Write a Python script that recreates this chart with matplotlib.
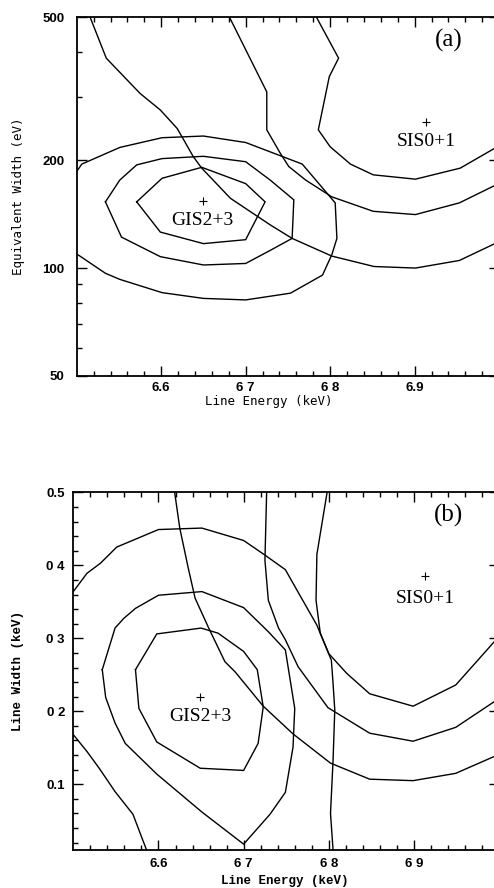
#
# Two-panel confidence contour figure: GIS2+3 vs SIS0+1 iron line fits.
#   (a) equivalent width (log) vs line energy
#   (b) line width vs line energy
# Contour vertices were read off the scanned figure.
#
# To run: 'python3 plot.py'  -> out.png
#

import matplotlib
matplotlib.use("Agg")
import matplotlib.pyplot as plt
from matplotlib.ticker import NullFormatter


# ---------------- panel (a): equivalent width (eV) ----------------
a_gis1_x = [6.571, 6.601, 6.648, 6.700, 6.723, 6.700, 6.650, 6.599, 6.571]
a_gis1_y = [153, 178, 191, 172, 153, 120, 117, 126, 153]

a_gis2_x = [6.534, 6.551, 6.571, 6.601, 6.650, 6.700, 6.729, 6.757, 6.755,
            6.729, 6.700, 6.650, 6.599, 6.553, 6.534]
a_gis2_y = [153, 176, 194, 202, 205, 198, 176, 155, 121,
            112, 103, 102, 107.6, 122, 153]

a_gis3_x = [6.500, 6.506, 6.551, 6.601, 6.650, 6.700, 6.767, 6.806, 6.808,
            6.802, 6.791, 6.753, 6.700, 6.650, 6.601, 6.551, 6.534, 6.500]
a_gis3_y = [186, 195, 217, 231, 233.5, 224, 195, 152, 121,
            109, 95.6, 85.1, 81.5, 82.3, 85.4, 93, 96.7, 109.5]

a_sis1_x = [6.784, 6.810, 6.799, 6.786, 6.800, 6.824, 6.851, 6.901, 6.954, 6.995]
a_sis1_y = [500, 385, 342, 243, 218, 195, 182, 177, 190, 216]

a_sis2_x = [6.681, 6.725, 6.725, 6.741, 6.751, 6.771, 6.802, 6.851, 6.901,
            6.953, 6.995]
a_sis2_y = [500, 310, 243, 209, 192, 176, 158, 144, 141, 152, 170]

a_sis3_x = [6.516, 6.535, 6.575, 6.599, 6.619, 6.628, 6.638, 6.648, 6.682,
            6.729, 6.755, 6.802, 6.852, 6.901, 6.953, 6.995]
a_sis3_y = [500, 385, 307, 276, 245, 225, 204.5, 190, 156.5,
            132, 121, 108, 101, 100, 105, 117]

a_best_gis = (6.649, 154)
a_best_sis = (6.914, 256)

# ---------------- panel (b): line width (keV) ----------------
b_gis1_x = [6.573, 6.598, 6.650, 6.670, 6.700, 6.716, 6.723, 6.717, 6.700,
            6.649, 6.598, 6.577, 6.573]
b_gis1_y = [0.257, 0.306, 0.314, 0.307, 0.282, 0.257, 0.206, 0.156, 0.119,
            0.122, 0.158, 0.204, 0.257]

b_gis2_x = [6.534, 6.549, 6.559, 6.573, 6.600, 6.651, 6.700, 6.729, 6.749,
            6.760, 6.758, 6.749, 6.731, 6.700, 6.651, 6.598, 6.561, 6.549,
            6.538, 6.534]
b_gis2_y = [0.257, 0.314, 0.327, 0.341, 0.359, 0.364, 0.342, 0.309, 0.284,
            0.204, 0.151, 0.089, 0.059, 0.018, 0.062, 0.114, 0.156, 0.184,
            0.219, 0.257]

# outer GIS contour is cut by the lower axis into two pieces
b_gis3a_x = [6.500, 6.516, 6.532, 6.551, 6.600, 6.651, 6.700, 6.725, 6.749,
             6.766, 6.786, 6.803, 6.805, 6.807, 6.805, 6.802, 6.805]
b_gis3a_y = [0.364, 0.389, 0.403, 0.425, 0.449, 0.451, 0.434, 0.414, 0.394,
             0.359, 0.318, 0.270, 0.238, 0.202, 0.133, 0.060, 0.010]
b_gis3b_x = [6.500, 6.516, 6.531, 6.549, 6.570, 6.586]
b_gis3b_y = [0.168, 0.145, 0.121, 0.090, 0.059, 0.010]

b_sis1_x = [6.798, 6.786, 6.785, 6.790, 6.800, 6.821, 6.848, 6.899, 6.949,
            6.975, 6.994]
b_sis1_y = [0.500, 0.415, 0.352, 0.307, 0.279, 0.252, 0.224, 0.207, 0.236,
            0.270, 0.295]

b_sis2_x = [6.727, 6.725, 6.729, 6.741, 6.749, 6.764, 6.799, 6.848, 6.899,
            6.949, 6.994]
b_sis2_y = [0.500, 0.407, 0.352, 0.314, 0.298, 0.261, 0.205, 0.170, 0.159,
            0.178, 0.213]

b_sis3_x = [6.619, 6.625, 6.635, 6.643, 6.659, 6.678, 6.690, 6.723, 6.758,
            6.802, 6.848, 6.899, 6.949, 6.994]
b_sis3_y = [0.500, 0.451, 0.396, 0.355, 0.314, 0.268, 0.254, 0.207, 0.169,
            0.129, 0.107, 0.105, 0.115, 0.138]

b_best_gis = (6.649, 0.219)
b_best_sis = (6.913, 0.386)

# ---------------- ticks (labels as printed in the scan) ----------------
x_major = [6.6, 6.7, 6.8, 6.9]
x_minor = [6.52, 6.54, 6.56, 6.58, 6.62, 6.64, 6.66, 6.68, 6.72, 6.74,
           6.76, 6.78, 6.82, 6.84, 6.86, 6.88, 6.92, 6.94, 6.96, 6.98]
a_xlabels = ["6.6", "6 7", "6 8", "6.9"]
b_xlabels = ["6.6", "6 7", "6 8", "6 9"]

a_y_major = [50, 100, 200, 500]
a_y_minor = [60, 70, 80, 90, 300, 400]
a_ylabels = ["50", "100", "200", "500"]

b_y_major = [0.1, 0.2, 0.3, 0.4, 0.5]
b_y_minor = [0.02, 0.04, 0.06, 0.08, 0.12, 0.14, 0.16, 0.18, 0.22, 0.24,
             0.26, 0.28, 0.32, 0.34, 0.36, 0.38, 0.42, 0.44, 0.46, 0.48]
b_ylabels = ["0.1", "0 2", "0 3", "0 4", "0.5"]

TICK_FONT = dict(family="Liberation Sans", weight="bold", size=9.5)
LINE_KW = dict(color="black", linewidth=1.0, solid_joinstyle="miter")


def style_axes(ax, ypad):
    for s in ax.spines.values():
        s.set_linewidth(1.3)
    ax.tick_params(which="both", direction="in", top=True, right=True,
                   width=1.0, colors="black")
    ax.tick_params(which="major", length=7)
    ax.tick_params(which="minor", length=3.5)
    ax.tick_params(axis="x", which="major", pad=4)
    ax.tick_params(axis="y", which="major", pad=ypad)
    ax.set_xticks(x_major)
    ax.set_xticks(x_minor, minor=True)
    ax.xaxis.set_minor_formatter(NullFormatter())
    ax.yaxis.set_minor_formatter(NullFormatter())


def put_labels(ax, gis, sis, tag, gis_dy, sis_dy):
    ax.plot([gis[0], sis[0]], [gis[1], sis[1]], linestyle="none", marker="+",
            markersize=6, markeredgewidth=0.8, color="black")
    serif = dict(family="Liberation Serif", size=14, ha="center", va="center")
    ax.text(gis[0], gis_dy, "GIS2+3", **serif)
    ax.text(sis[0], sis_dy, "SIS0+1", **serif)
    ax.text(0.88, 0.935, tag, transform=ax.transAxes, family="Liberation Serif",
            size=18, ha="center", va="center")


def panel_a(fig):
    ax = fig.add_axes([0.1553, 0.5766, 0.855, 0.4037])
    for xs, ys in [(a_gis1_x, a_gis1_y), (a_gis2_x, a_gis2_y),
                   (a_gis3_x, a_gis3_y), (a_sis1_x, a_sis1_y),
                   (a_sis2_x, a_sis2_y), (a_sis3_x, a_sis3_y)]:
        ax.plot(xs, ys, **LINE_KW)
    ax.set_yscale("log")
    ax.set_xlim(6.5, 7.0)
    ax.set_ylim(50, 500)
    style_axes(ax, ypad=9)
    ax.set_yticks(a_y_major)
    ax.set_yticks(a_y_minor, minor=True)
    ax.yaxis.set_minor_formatter(NullFormatter())
    ax.set_xticklabels(a_xlabels, fontdict=TICK_FONT)
    ax.set_yticklabels(a_ylabels, fontdict=TICK_FONT)

    ax.set_xlabel("Line Energy (keV)", family="DejaVu Sans Mono", size=9)
    ax.xaxis.set_label_coords(0.455, -0.072)
    ax.xaxis.label.set_verticalalignment("center")
    ax.set_ylabel("Equivalent Width (eV)", family="DejaVu Sans Mono", size=9)
    ax.yaxis.set_label_coords(-0.139, 0.5)
    ax.yaxis.label.set_verticalalignment("center")

    put_labels(ax, a_best_gis, a_best_sis, "(a)", gis_dy=135.5, sis_dy=225)


def panel_b(fig):
    ax = fig.add_axes([0.1484, 0.0428, 0.862, 0.4028])
    for xs, ys in [(b_gis1_x, b_gis1_y), (b_gis2_x, b_gis2_y),
                   (b_gis3a_x, b_gis3a_y), (b_gis3b_x, b_gis3b_y),
                   (b_sis1_x, b_sis1_y), (b_sis2_x, b_sis2_y),
                   (b_sis3_x, b_sis3_y)]:
        ax.plot(xs, ys, **LINE_KW)
    ax.set_xlim(6.5, 7.0)
    ax.set_ylim(0.01, 0.5)
    style_axes(ax, ypad=6)
    ax.set_yticks(b_y_major)
    ax.set_yticks(b_y_minor, minor=True)
    ax.set_xticklabels(b_xlabels, fontdict=TICK_FONT)
    ax.set_yticklabels(b_ylabels, fontdict=TICK_FONT)
    ax.tick_params(axis="x", which="major", pad=5.5)

    ax.set_xlabel("Line Energy (keV)", family="Liberation Mono",
                  weight="bold", size=9)
    ax.xaxis.set_label_coords(0.497, -0.086)
    ax.xaxis.label.set_verticalalignment("center")
    ax.set_ylabel("Line Width (keV)", family="Liberation Mono",
                  weight="bold", size=9)
    ax.yaxis.set_label_coords(-0.130, 0.5)
    ax.yaxis.label.set_verticalalignment("center")

    put_labels(ax, b_best_gis, b_best_sis, "(b)", gis_dy=0.193, sis_dy=0.355)


def main():
    fig = plt.figure(figsize=(4.94, 8.88), dpi=100)
    panel_a(fig)
    panel_b(fig)
    fig.savefig("out.png", dpi=100, facecolor="white")
    plt.close(fig)


if __name__ == "__main__":
    main()
